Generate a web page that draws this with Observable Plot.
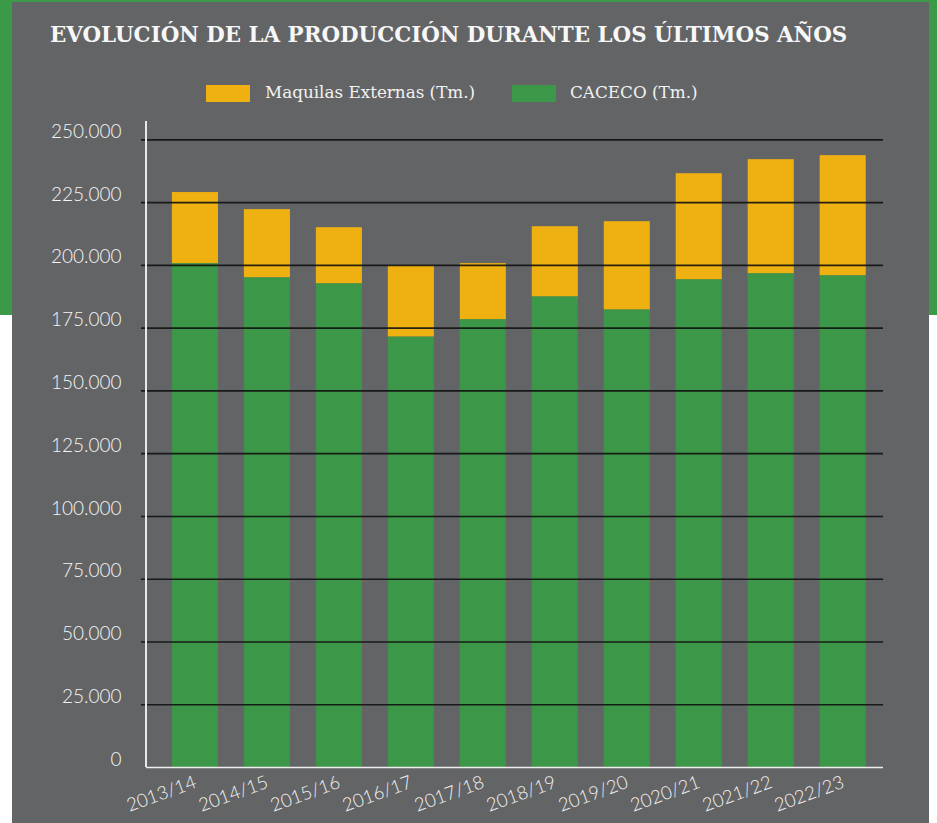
<!DOCTYPE html>
<html>
<head>
<meta charset="utf-8">
<script src="https://cdn.jsdelivr.net/npm/d3@7"></script>
<script src="https://cdn.jsdelivr.net/npm/@observablehq/plot@0.6"></script>
<style>
  html, body { margin: 0; padding: 0; background: #ffffff; }
  #page { position: relative; width: 937px; height: 823px; overflow: hidden; background: #ffffff; }
  #greenband { position: absolute; left: 0; top: 0; width: 937px; height: 315px; background: #3b9a47; }
  #panel { position: absolute; left: 12px; top: 2px; width: 917px; height: 821px; background: #636466; }
  #title { position: absolute; left: 50px; top: 22px; font-family: "DejaVu Serif", serif; font-weight: bold;
           color: #f7f7f7; font-size: 22px; white-space: nowrap; }
  .sw { position: absolute; width: 44px; height: 17px; top: 85px; }
  .lt { position: absolute; top: 82px; font-family: "DejaVu Serif", serif; font-size: 16.8px; color: #f2f2f2; white-space: nowrap; }
  #chart { position: absolute; left: 0; top: 110px; }
</style>
</head>
<body>
<div id="page">
  <div id="greenband"></div>
  <div id="panel"></div>
  <div id="title">EVOLUCIÓN DE LA PRODUCCIÓN DURANTE LOS ÚLTIMOS AÑOS</div>
  <div class="sw" style="left:206px;background:#efb112"></div>
  <div class="lt" style="left:265px">Maquilas Externas (Tm.)</div>
  <div class="sw" style="left:512px;background:#3d9748"></div>
  <div class="lt" style="left:570px">CACECO (Tm.)</div>
  <div id="chart"></div>
</div>
<script>
// ---- data ----
const seasons = ["2013/14","2014/15","2015/16","2016/17","2017/18","2018/19","2019/20","2020/21","2021/22","2022/23"];
const caceco   = [200700, 195100, 192700, 171500, 178400, 187500, 182300, 194300, 196700, 195900];
const maquilas = [28300, 27100, 22300, 28400, 22300, 27900, 35100, 42200, 45400, 47800];
const seriesNames = ["Maquilas Externas (Tm.)", "CACECO (Tm.)"];
const yTicks = [0, 25000, 50000, 75000, 100000, 125000, 150000, 175000, 200000, 225000, 250000];

// table for stacking: CACECO first (bottom), Maquilas on top
const rows = [
  ...seasons.map((s, i) => ({season: s, series: seriesNames[1], value: caceco[i]})),
  ...seasons.map((s, i) => ({season: s, series: seriesNames[0], value: maquilas[i]}))
];

const fmt = d => d3.format(",")(d).replace(/,/g, ".");

function leftAxisLine(index, scales, values, dimensions) {
  return d3.create("svg:line")
    .attr("x1", dimensions.marginLeft).attr("x2", dimensions.marginLeft)
    .attr("y1", dimensions.marginTop).attr("y2", dimensions.height - dimensions.marginBottom)
    .attr("stroke", "#e8e8e8").attr("stroke-width", 2)
    .node();
}

const chart = Plot.plot({
  width: 937,
  height: 713,
  marginLeft: 146,
  marginRight: 54,
  marginTop: 11,
  marginBottom: 56,
  style: { background: "transparent", color: "#f4f4f4", fontFamily: "Lato, sans-serif", fontSize: "18px", overflow: "visible" },
  x: { domain: seasons, paddingInner: 0.36, paddingOuter: 0.3, align: 0.6, round: false, label: null },
  y: { domain: [0, 257300], label: null },
  color: { domain: seriesNames, range: ["#efb112", "#3d9748"] },
  marks: [
    Plot.barY(rows, { x: "season", y: "value", fill: "series" }),
    Plot.ruleY(yTicks.slice(1), { stroke: "#111111", strokeOpacity: 0.9, strokeWidth: 1.6, insetLeft: -5 }),
    Plot.axisY(yTicks, { tickSize: 0, tickPadding: 25, tickFormat: fmt, fill: "#f4f4f4", fontSize: 19, fontWeight: 300, dy: -8, label: null }),
    Plot.axisX({ tickSize: 0, tickPadding: 14, tickRotate: -20, fill: "#f4f4f4", fontSize: 18.5, fontWeight: 300, label: null }),
    Plot.ruleY([0], { stroke: "#eeeeee", strokeWidth: 1.6 }),
    leftAxisLine
  ]
});
document.getElementById("chart").appendChild(chart);

// fit title width
const t = document.getElementById("title");
const w = t.getBoundingClientRect().width;
t.style.fontSize = (22 * 798 / w) + "px";
</script>
</body>
</html>
